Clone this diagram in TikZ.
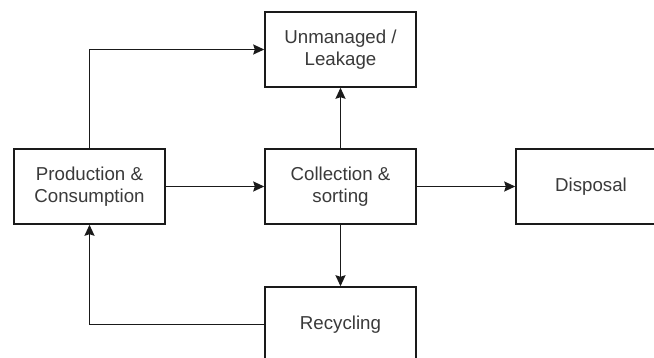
\documentclass[tikz,border=0pt]{standalone}
\usepackage{fontspec}
\setmainfont{Liberation Sans}
\usetikzlibrary{arrows.meta}
\definecolor{linec}{HTML}{1A1A1A}
\definecolor{textc}{HTML}{3A3A3A}
\tikzset{
  stagebox/.style={draw=linec, line width=1.5pt, fill=white, rectangle,
    minimum width=151pt, minimum height=75pt, inner sep=0pt, align=center,
    text=textc, font=\fontsize{18.7}{22}\selectfont},
  flow/.style={draw=linec, line width=1.5pt,
    -{Stealth[length=11pt, width=10pt, inset=1.5pt]}}
}
\begin{document}
\begin{tikzpicture}[x=1pt, y=-1pt]
  \useasboundingbox (0,0) rectangle (654,358);
  \clip (0,0) rectangle (654,358);
  \fill[white] (0,0) rectangle (654,358);

  % stages of the material flow
  \node[stagebox] (unm)  at (340.5, 49.5)  {Unmanaged /\\Leakage};
  \node[stagebox] (prod) at (89.5, 186.5)  {Production \&\\Consumption};
  \node[stagebox] (coll) at (340.5, 186.5) {Collection \&\\sorting};
  \node[stagebox, minimum width=150pt] (disp) at (591, 186.5) {Disposal};
  \node[stagebox] (recy) at (340.5, 324.5) {Recycling};

  % flows between stages
  \draw[flow] (prod.north) |- (unm.west);
  \draw[flow] (prod.east) -- (coll.west);
  \draw[flow] (coll.north) -- (unm.south);
  \draw[flow] (coll.east) -- (disp.west);
  \draw[flow] (coll.south) -- (recy.north);
  \draw[flow] (recy.west) -| (prod.south);
\end{tikzpicture}
\end{document}
